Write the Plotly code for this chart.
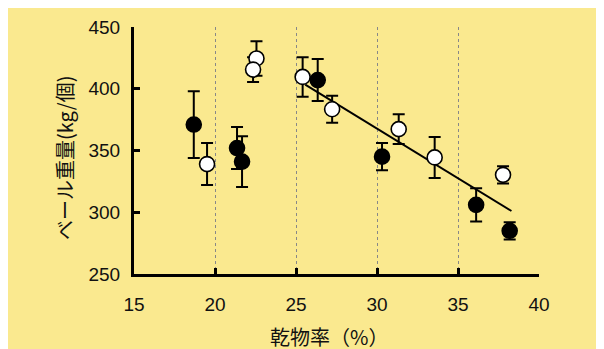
import plotly.graph_objects as go

# Data
black_x = [18.69, 21.36, 21.67, 26.34, 30.31, 36.12, 38.19]
black_y = [371.0, 352.0, 341.0, 407.0, 345.0, 306.0, 285.0]
black_err = [27.0, 17.0, 20.5, 17.0, 11.0, 13.5, 7.0]

white_x = [19.51, 22.56, 22.35, 25.41, 27.23, 31.34, 33.56, 37.78]
white_y = [339.0, 424.5, 415.5, 409.6, 383.4, 367.3, 344.4, 330.3]
white_err = [17.0, 14.0, 10.0, 16.0, 11.0, 12.0, 16.6, 7.0]

fit_x = [25.57, 38.3]
fit_y = [403.4, 301.0]

x_ticks = [15, 20, 25, 30, 35, 40]
y_ticks = [250, 300, 350, 400, 450]

x_title = "乾物率（%）"
y_title = "ベール重量(kg/個)"

YELLOW = "#FAE98F"
TICKFONT = dict(family="Liberation Sans Narrow, Arial Narrow, Liberation Sans, sans-serif", size=19, color="#111111")
CJK = "Noto Sans CJK JP"

fig = go.Figure()

fig.add_trace(go.Scatter(
    x=fit_x, y=fit_y, mode="lines",
    line=dict(color="black", width=2), showlegend=False, hoverinfo="skip"))

fig.add_trace(go.Scatter(
    x=white_x, y=white_y, mode="markers",
    marker=dict(size=15, color="white", line=dict(color="black", width=1.6)),
    error_y=dict(type="data", array=white_err, visible=True, color="black", thickness=2, width=6),
    showlegend=False))

fig.add_trace(go.Scatter(
    x=black_x, y=black_y, mode="markers",
    marker=dict(size=15, color="black", line=dict(color="black", width=1.6)),
    error_y=dict(type="data", array=black_err, visible=True, color="black", thickness=2, width=6),
    showlegend=False))

fig.add_annotation(text=x_title, xref="paper", yref="paper", x=0.481, y=-0.255,
                   xanchor="center", yanchor="middle", showarrow=False,
                   font=dict(family=CJK, size=20, color="#111111"))
fig.add_annotation(text=y_title, xref="paper", yref="paper", x=-0.170, y=0.47,
                   xanchor="center", yanchor="middle", showarrow=False, textangle=-90,
                   font=dict(family=CJK, size=20, color="#111111"))

fig.update_layout(
    width=604, height=349,
    margin=dict(l=126, r=73, t=19, b=83),
    paper_bgcolor=YELLOW, plot_bgcolor=YELLOW,
    xaxis=dict(
        range=[15, 40], tickvals=x_ticks, ticktext=[str(v) for v in x_ticks],
        showline=True, linecolor="black", linewidth=3,
        ticks="inside", ticklen=6, tickwidth=3, tickcolor="black",
        showgrid=True, gridcolor="#888888", gridwidth=1, griddash="dot",
        zeroline=False, tickfont=TICKFONT, ticklabelstandoff=11, automargin=False,
    ),
    yaxis=dict(
        range=[250, 450], tickvals=y_ticks, ticktext=[str(v) for v in y_ticks],
        showline=True, linecolor="black", linewidth=3,
        ticks="inside", ticklen=6, tickwidth=3, tickcolor="black",
        showgrid=False, zeroline=False, tickfont=TICKFONT, ticklabelstandoff=7, automargin=False,
    ),
)

fig.write_html("out.html")
